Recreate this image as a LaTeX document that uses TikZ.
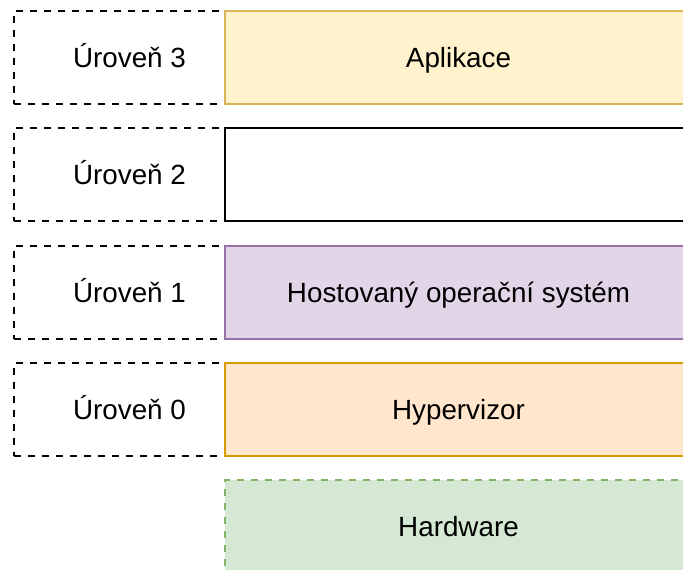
\documentclass[tikz,border=0pt]{standalone}
\usepackage{fontspec}
\setmainfont{Liberation Sans}
\definecolor{yelfill}{HTML}{FFF2CC}\definecolor{yelline}{HTML}{D6B656}
\definecolor{purfill}{HTML}{E1D5E7}\definecolor{purline}{HTML}{9673A6}
\definecolor{orafill}{HTML}{FFE6CC}\definecolor{oraline}{HTML}{D79B00}
\definecolor{grefill}{HTML}{D5E8D4}\definecolor{greline}{HTML}{82B366}
\begin{document}
\begin{tikzpicture}[x=1pt,y=-1pt,
  every node/.style={font=\fontsize{27.8}{33}\selectfont, inner sep=0pt, text height=20pt, text depth=0pt},
  levelbox/.style={draw=black, line width=2pt, dash pattern=on 7pt off 7pt, minimum width=231pt, minimum height=93pt},
  layerbox/.style={line width=2pt, minimum width=467pt, minimum height=93pt}]
  \useasboundingbox (0,0) rectangle (683,570);
  \clip (0,0) rectangle (683,570);
  % level frames on the left
  \node[levelbox] (l3) at (129.5,57.5) {Úroveň 3};
  \node[levelbox] (l2) at (129.5,174.5) {Úroveň 2};
  \node[levelbox] (l1) at (129.5,292) {Úroveň 1};
  \node[levelbox] (l0) at (129.5,409) {Úroveň 0};
  % stacked layers
  \node[layerbox, fill=yelfill, draw=yelline] (a3) at (458.5,57.5) {Aplikace};
  \node[layerbox, fill=white, draw=black] (a2) at (458.5,174.5) {};
  \node[layerbox, fill=purfill, draw=purline] (a1) at (458.5,292) {Hostovaný operační systém};
  \node[layerbox, fill=orafill, draw=oraline] (a0) at (458.5,409) {Hypervizor};
  \node[layerbox, fill=grefill, draw=greline, dash pattern=on 7pt off 7pt] (hw) at (458.5,526.5) {Hardware};
\end{tikzpicture}
\end{document}
